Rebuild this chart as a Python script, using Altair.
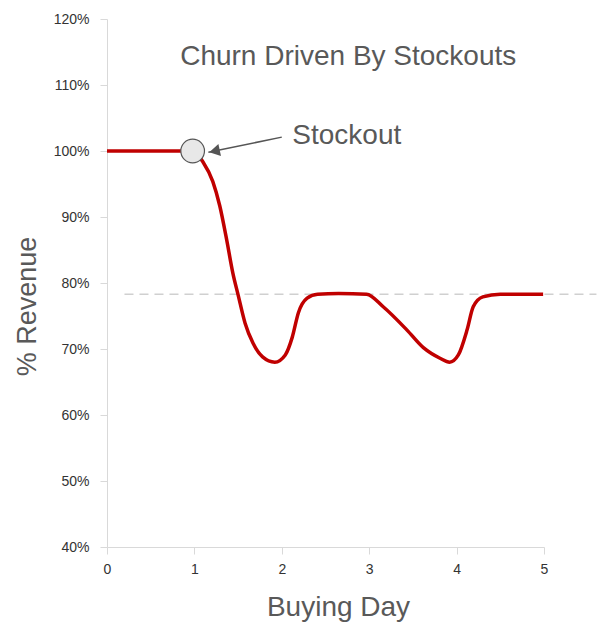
import altair as alt
import pandas as pd

# Curve
days = [0.0, 0.5, 0.98, 1.10, 1.21, 1.29, 1.37, 1.44, 1.50, 1.58, 1.67, 1.78, 1.92, 2.04, 2.12,
        2.19, 2.29, 2.41, 2.65, 2.97, 3.16, 3.43, 3.62, 3.81, 3.92, 4.02, 4.12, 4.19, 4.30, 4.50, 4.99]
revenue = [100.0, 100.0, 100.0, 98.3, 95.4, 91.7, 86.5, 81.5, 78.2, 73.9, 70.9, 68.8, 68.0, 69.1, 71.8,
           75.5, 77.7, 78.3, 78.4, 78.3, 76.4, 72.9, 70.2, 68.6, 68.0, 69.1, 72.9, 76.4, 77.9, 78.3, 78.3]

baseline_value = [78.3]
baseline_x = [0.2, 5.6]

stockout_day = [0.98]
stockout_rev = [100.0]

arrow_x = [2.0, 1.16]
arrow_y = [102.1, 99.8]

title_text = ["Churn Driven By Stockouts"]
label_text = ["Stockout"]

x_ticks = [0, 1, 2, 3, 4, 5]
y_ticks = [40, 50, 60, 70, 80, 90, 100, 110, 120]

df = pd.DataFrame({"day": days, "rev": revenue})
xs = alt.Scale(domain=[0, 5], nice=False)
ys = alt.Scale(domain=[40, 120], nice=False)

grey_axis = "#d9d9d9"

line = alt.Chart(df).mark_line(color="#c00000", strokeWidth=3.5, interpolate="monotone").encode(
    x=alt.X("day:Q", scale=xs, axis=alt.Axis(
        values=x_ticks, format="d", title="Buying Day", grid=False, domainColor=grey_axis,
        tickColor=grey_axis, tickSize=7, labelFontSize=14, labelColor="#333333", labelPadding=8,
        labelFlush=False, labelFont="Liberation Sans", titleFont="Liberation Sans", titleFontSize=28,
        titleFontWeight="normal", titleColor="#595959", titleX=231, titleY=60, titleBaseline="middle")),
    y=alt.Y("rev:Q", scale=ys, axis=alt.Axis(
        values=y_ticks, labelExpr="datum.value + '%'", title="% Revenue", grid=False,
        domainColor=grey_axis, tickColor=grey_axis, tickSize=7, labelFontSize=14, labelColor="#333333",
        labelPadding=11, labelFont="Liberation Sans", titleFont="Liberation Sans", titleFontSize=27,
        titleFontWeight="normal", titleColor="#595959", titleX=-80, titleY=287, titleBaseline="middle",
        titleAngle=270)),
)

dash = alt.Chart(pd.DataFrame({"x": baseline_x, "y": baseline_value * 2})).mark_line(
    color="#d0d0d0", strokeWidth=1.5, strokeDash=[9, 6], clip=False).encode(
    x=alt.X("x:Q", scale=xs), y=alt.Y("y:Q", scale=ys))

circle = alt.Chart(pd.DataFrame({"x": stockout_day, "y": stockout_rev})).mark_point(
    shape="circle", size=560, filled=True, fill="#e8e8e8", stroke="#555555", strokeWidth=1.2, opacity=1).encode(
    x=alt.X("x:Q", scale=xs), y=alt.Y("y:Q", scale=ys))

arrow = alt.Chart(pd.DataFrame({"x": arrow_x, "y": arrow_y})).mark_line(
    color="#555555", strokeWidth=1.5).encode(x=alt.X("x:Q", scale=xs), y=alt.Y("y:Q", scale=ys))

head = alt.Chart(pd.DataFrame({"x": [arrow_x[1] + 0.07], "y": [arrow_y[1] + 0.18]})).mark_point(
    shape="triangle-left", size=150, filled=True, color="#555555", opacity=1, angle=348).encode(
    x=alt.X("x:Q", scale=xs), y=alt.Y("y:Q", scale=ys))

label = alt.Chart(pd.DataFrame({"x": [2.12], "y": [102.3], "t": label_text})).mark_text(
    align="left", baseline="middle", fontSize=28, font="Liberation Sans", color="#595959").encode(
    x=alt.X("x:Q", scale=xs), y=alt.Y("y:Q", scale=ys), text="t:N")

title = alt.Chart(pd.DataFrame({"x": [2.76], "y": [114.2], "t": title_text})).mark_text(
    align="center", baseline="middle", fontSize=28, font="Liberation Sans", color="#595959").encode(
    x=alt.X("x:Q", scale=xs), y=alt.Y("y:Q", scale=ys), text="t:N")

chart = alt.layer(dash, line, arrow, head, circle, label, title).properties(
    width=437, height=528,
    autosize=alt.AutoSizeParams(type="none"),
    padding={"left": 107, "top": 19, "right": 62, "bottom": 78},
    background="white",
).configure_view(stroke=None)

chart.save("out.html", embed_options={"renderer": "svg", "actions": False})
